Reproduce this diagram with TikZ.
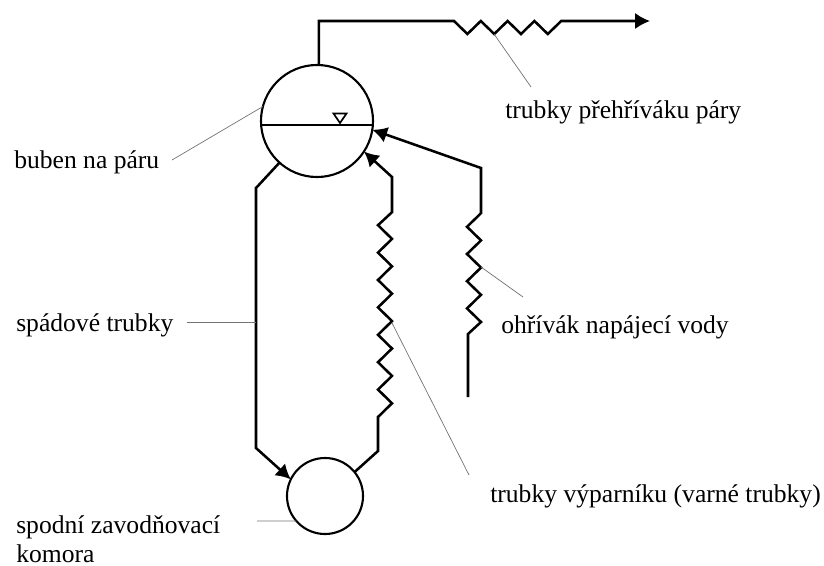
\documentclass[tikz,border=0pt]{standalone}
\usepackage{fontspec}
\setmainfont{Liberation Serif}
\usetikzlibrary{arrows.meta}
\tikzset{
  pipe/.style={line width=1.8pt, line join=miter},
  flow/.style={pipe, -{Latex[length=10.5pt,width=11.5pt]}},
  vessel/.style={circle, draw, line width=1.5pt, inner sep=0pt, outer sep=0pt, minimum size=#1},
  leader/.style={line width=0.5pt, black!55},
  caption/.style={font=\fontsize{18.2}{21}\selectfont, inner sep=0pt, anchor=base west}
}
\begin{document}
\begin{tikzpicture}[x=0.025cm, y=-0.025cm]
  \useasboundingbox (0,0) rectangle (824,566);
  % Vessels
  \node[vessel=2.8cm] (drum) at (317,121) {};
  \node[vessel=1.9cm] (sump) at (325,496) {};
  % Water level
  \draw[line width=1.5pt] (drum.184) -- (drum.-4);
  \coordinate (lvl) at (340,123);
  \draw[line width=1.2pt] (lvl) -- (333.5,113.5) -- (346.5,113.5) -- cycle;
  % Steam line with superheater
  \coordinate (steamA) at (319,21);
  \coordinate (steamB) at (454,21);
  \coordinate (steamEnd) at (650,21);
  \draw[flow] (drum.88) -- (drum.88 |- steamA) -- (steamB)
    foreach \i in {1,...,4} { -- ++(13.4,13) -- ++(13.4,-13) } -- (steamEnd);
  % Downcomer
  \coordinate (downA) at (256,188);
  \coordinate (downB) at (256,448);
  \draw[flow] (drum.228) -- (downA) -- (downB) -- (sump.154);
  % Evaporator
  \coordinate (evapA) at (378,451);
  \coordinate (evapB) at (378,417);
  \coordinate (evapC) at (392,177);
  \draw[flow] (sump.39) -- (evapA) -- (evapB)
    foreach \i in {1,...,7} { -- ++(14,-13.7) -- ++(-14,-13.7) } -- ++(14,-13) -- (evapC) -- (drum.-33.7);
  % Feedwater heater
  \coordinate (feedA) at (468,397);
  \coordinate (feedB) at (468,334);
  \coordinate (feedC) at (481,168);
  \draw[flow] (feedA) -- (feedB) -- ++(13,-12)
    foreach \i in {1,...,4} { -- ++(-14,-13.6) -- ++(14,-13.6) } -- (feedC) -- (drum.-9);
  % Labels
  \node[caption] (lblDrum) at (14,168) {buben na páru};
  \node[caption] (lblDown) at (16,331) {spádové trubky};
  \node[caption] (lblSump) at (16,533) {spodní zavodňovací};
  \node[caption] (lblSumpB) at (16,562.5) {komora};
  \node[caption] (lblSuper) at (505,118) {trubky přehříváku páry};
  \node[caption] (lblFeed) at (501,333) {ohřívák napájecí vody};
  \node[caption] (lblEvap) at (490,502) {trubky výparníku (varné trubky)};
  % Leaders
  \coordinate (tipSuper) at (494,34);
  \coordinate (tipFeed) at (481,267);
  \coordinate (tipEvap) at (392,323);
  \coordinate (endSuper) at (531,87);
  \coordinate (endFeed) at (523,297);
  \coordinate (endEvap) at (469,475);
  \coordinate (endDrum) at (172,160);
  \coordinate (endDown) at (187,322);
  \coordinate (endSump) at (257,521);
  \draw[leader] (endDrum) -- (drum.165);
  \draw[leader] (endDown) -- (downA |- endDown);
  \draw[leader] (endSump) -- (sump.221);
  \draw[leader] (tipSuper) -- (endSuper);
  \draw[leader] (tipFeed) -- (endFeed);
  \draw[leader] (tipEvap) -- (endEvap);
\end{tikzpicture}
\end{document}
